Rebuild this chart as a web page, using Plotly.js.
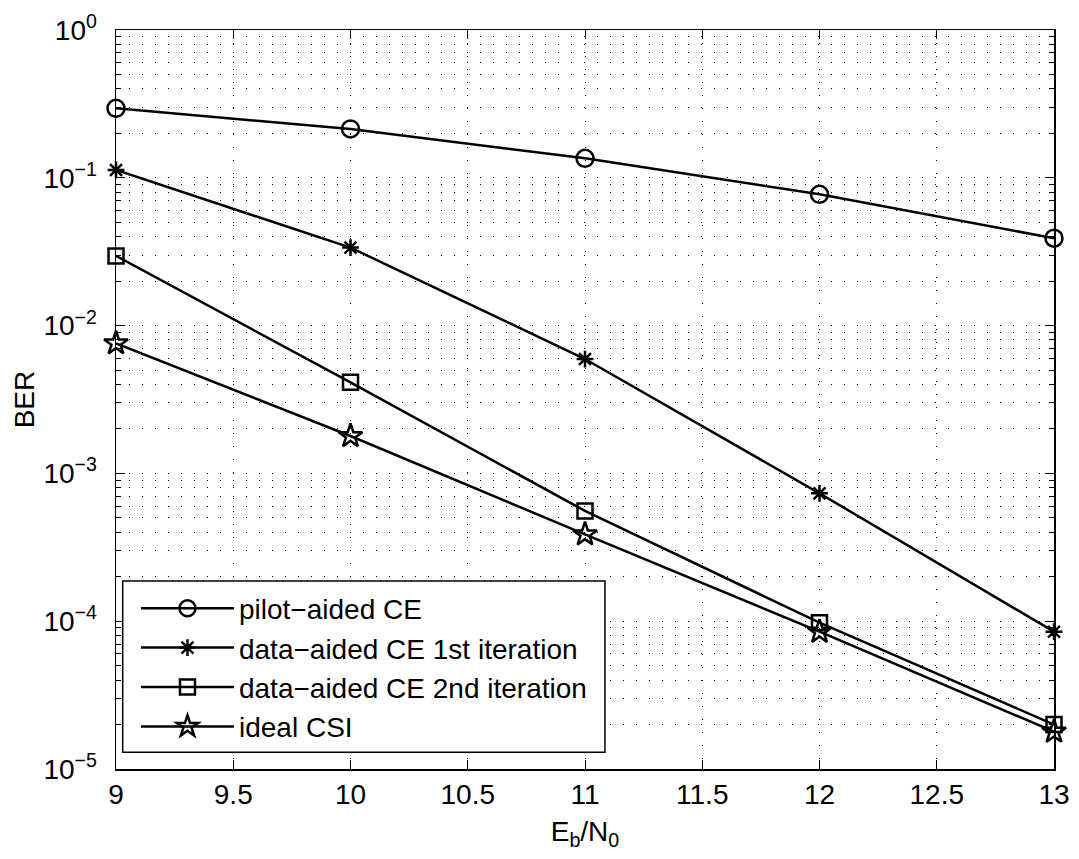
<!DOCTYPE html>
<html>
<head>
<meta charset="utf-8">
<script src="https://cdn.plot.ly/plotly-3.0.1.min.js"></script>
<style>
  html, body { margin: 0; padding: 0; background: #fff; }
  #chart { width: 1079px; height: 859px; }
</style>
</head>
<body>
<div id="chart"></div>
<script>
// Data
const ebn0 = [9, 10, 11, 12, 13];
const pilotAided = [0.295, 0.214, 0.1355, 0.0773, 0.0390];
const dataAided1st = [0.113, 0.0337, 0.00594, 7.33e-4, 8.49e-5];
const dataAided2nd = [0.0296, 0.00413, 5.57e-4, 9.77e-5, 2.00e-5];
const idealCSI = [0.00759, 0.00179, 3.87e-4, 8.49e-5, 1.79e-5];

const seriesNames = [
  "pilot\u2212aided CE",
  "data\u2212aided CE 1st iteration",
  "data\u2212aided CE 2nd iteration",
  "ideal CSI"
];

const xTickVals = [9, 9.5, 10, 10.5, 11, 11.5, 12, 12.5, 13];
const xTickText = ["9", "9.5", "10", "10.5", "11", "11.5", "12", "12.5", "13"];
const yTickVals = [1, 0.1, 0.01, 0.001, 1e-4, 1e-5];
const yTickText = ["10<sup>0</sup>", "10<sup>\u22121</sup>", "10<sup>\u22122</sup>",
                   "10<sup>\u22123</sup>", "10<sup>\u22124</sup>", "10<sup>\u22125</sup>"];

const FONT = "Liberation Sans, Arial, Helvetica, sans-serif";
const FS = 28;
const lineStyle = { color: "#000", width: 2.5 };

function mk(y, name, symbol, size) {
  return {
    x: ebn0, y: y, name: name, type: "scatter", mode: "lines+markers",
    line: lineStyle,
    marker: { symbol: symbol, size: size, color: "#000", line: { color: "#000", width: 2.5 } },
    cliponaxis: false
  };
}

const traces = [
  mk(pilotAided, seriesNames[0], "circle-open", 17),
  mk(dataAided1st, seriesNames[1], "asterisk-open", 14),
  mk(dataAided2nd, seriesNames[2], "square-open", 15),
  mk(idealCSI, seriesNames[3], "star-open", 18)
];

const gridDash = "1px,12px";

const layout = {
  width: 1079, height: 859,
  margin: { l: 116, r: 25, t: 30, b: 90, pad: 0 },
  paper_bgcolor: "#fff", plot_bgcolor: "#fff",
  font: { family: FONT, size: FS, color: "#000" },
  showlegend: true,
  legend: {
    x: 0.0213, y: 0.251, xanchor: "left", yanchor: "top",
    bgcolor: "rgba(0,0,0,0)", borderwidth: 0,
    font: { family: FONT, size: FS, color: "#000" },
    itemwidth: 93, tracegroupgap: 0
  },
  // legend frame
  shapes: [{
    type: "rect", xref: "paper", yref: "paper",
    x0: 0.00714, x1: 0.5213, y0: 0.0226, y1: 0.2544,
    line: { color: "#000", width: 1.5 }, fillcolor: "#fff", layer: "above"
  }],
  xaxis: {
    range: [9, 13], type: "linear",
    tickmode: "array", tickvals: xTickVals, ticktext: xTickText,
    ticks: "inside", ticklen: 9, tickwidth: 1, tickcolor: "#000",
    showline: true, linecolor: "#000", linewidth: 1.5, mirror: "ticks",
    showgrid: true, gridcolor: "#000", gridwidth: 1, griddash: gridDash,
    zeroline: false,
    tickfont: { family: FONT, size: FS, color: "#000" },
    title: { text: "E<sub>b</sub>/N<sub>0</sub>", font: { family: FONT, size: FS, color: "#000" }, standoff: 12 }
  },
  yaxis: {
    type: "log", range: [-5, 0], autorange: false,
    tickmode: "array", tickvals: yTickVals, ticktext: yTickText,
    ticks: "inside", ticklen: 9, tickwidth: 1, tickcolor: "#000",
    ticklabelstandoff: 12,
    showline: true, linecolor: "#000", linewidth: 1.5, mirror: "ticks",
    showgrid: true, gridcolor: "#000", gridwidth: 1, griddash: gridDash,
    zeroline: false,
    tickfont: { family: FONT, size: FS, color: "#000" },
    minor: {
      dtick: "D1", ticks: "inside", ticklen: 5, tickwidth: 1, tickcolor: "#000",
      showgrid: true, gridcolor: "#000", gridwidth: 1, griddash: gridDash
    },
    title: { text: "BER", font: { family: FONT, size: FS, color: "#000" }, standoff: 0 }
  }
};

Plotly.newPlot("chart", traces, layout, { staticPlot: true, displayModeBar: false });
</script>
</body>
</html>
